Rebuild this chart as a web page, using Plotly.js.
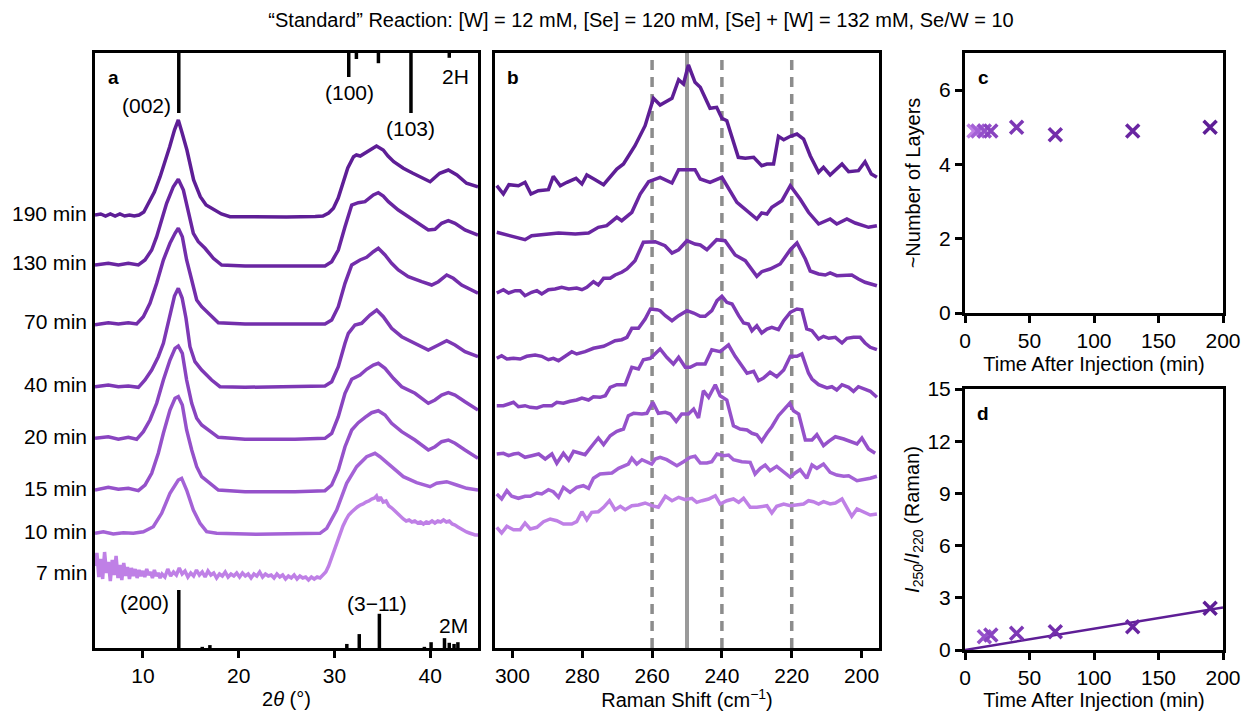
<!DOCTYPE html>
<html><head><meta charset="utf-8">
<script src="https://cdn.plot.ly/plotly-3.0.1.min.js"></script>
<style>html,body{margin:0;padding:0;background:#fff;}#chart{width:1244px;height:711px;}</style>
</head><body><div id="chart"></div>
<script>
// ---------- DATA ----------
const timeLabels = ['190 min','130 min','70 min','40 min','20 min','15 min','10 min','7 min'];

// XRD (2theta, offset intensity a.u.)
const xrd190 = [[5.0,433],[5.6,434],[6.1,432],[6.6,434],[7.1,432],[7.6,434],[8.1,432],[8.6,433],[9.1,432],[9.6,433],[10.1,436],[10.6,444.7],[11.2,456],[11.8,471.3],[12.3,485],[12.8,501.3],[13.3,518],[13.7,528],[14.1,515],[14.6,498],[15.3,468],[16.0,451.3],[16.6,443],[17.4,438],[18.2,434],[19.1,431.3],[22,431],[25,431],[28,431.5],[28.8,432],[29.4,435],[29.9,439.7],[30.4,450],[30.9,464.7],[31.4,480],[32.0,491.3],[32.3,493],[32.7,492],[33.5,496.7],[34.0,500],[34.4,502],[35.1,498],[35.6,492],[36.2,486.3],[37.2,479.7],[38.2,474.7],[39.3,469.7],[40.0,466.3],[41.0,474.7],[41.9,478],[42.8,473],[43.8,464.7],[45.0,461.3]];
const xrd130 = [[5.0,383],[6.39,384.7],[7.44,383],[8.48,384.7],[9.53,383],[10.22,388],[10.92,398],[11.44,411.3],[11.96,428],[12.48,444.7],[13.18,461.3],[13.7,468.7],[14.23,458],[14.75,434.7],[15.27,414.7],[15.79,406.3],[16.49,399.7],[17.36,389.7],[18.23,383],[20.67,382],[25.89,382],[29.02,382],[29.72,386.3],[30.41,398],[31.11,421.3],[31.81,443],[32.5,445.3],[33.2,446.3],[34.07,453],[34.59,455.3],[35.11,452],[35.64,446.3],[36.68,438],[37.72,431.3],[38.77,424.7],[39.81,418],[40.51,418.7],[41.2,424.7],[41.9,427.3],[42.6,424.7],[43.64,418],[45.0,413]];
const xrd70 = [[5.0,323.3],[6.39,325.3],[7.44,324],[8.48,325.3],[9.35,324],[10.05,331.3],[10.74,344.7],[11.44,364.7],[12.14,388],[12.83,404.7],[13.36,414.7],[13.7,419.7],[14.12,411.3],[14.57,388],[15.1,368],[15.62,348],[16.14,341.3],[16.84,334.7],[17.88,325.3],[20.67,324],[25.89,324],[29.02,324],[29.72,328],[30.41,341.3],[31.11,364.7],[31.81,383],[32.68,388],[33.37,390.7],[34.07,396.3],[34.59,399.7],[35.29,393],[35.98,384.7],[36.68,378],[37.72,371.3],[39.12,366.3],[40.16,363],[40.86,366.3],[41.73,373],[42.42,369.7],[43.29,363],[45.0,354.7]];
const xrd40 = [[5.0,261.3],[6.39,263],[7.44,261.3],[8.48,262],[9.53,260.7],[10.22,268],[10.92,278],[11.61,291.3],[12.14,304.7],[12.48,318],[12.9,338],[13.3,352],[13.7,359.7],[14.1,350],[14.5,330],[14.92,301.3],[15.44,286.3],[16.14,278],[17.18,268],[18.05,261.3],[20.67,260.7],[25.89,261],[29.02,262],[29.72,266.3],[30.41,281.3],[31.11,304.7],[31.46,314.7],[32.15,323],[32.85,324.7],[33.72,333],[34.42,338],[35.11,331.3],[35.98,319.7],[37.03,311.3],[38.42,304.7],[39.81,298],[40.86,303],[41.73,307.3],[42.6,303],[43.64,296.3],[45.0,291.3]];
const xrd20 = [[5.0,209.7],[6.39,211.3],[7.44,208.7],[8.48,210.7],[9.35,208.7],[10.05,216.3],[10.74,228],[11.44,244.7],[12.14,268],[12.83,288],[13.36,299.7],[13.7,302],[14.12,294.7],[14.57,268],[15.1,244.7],[15.62,229.7],[16.14,223],[17.01,216.3],[17.88,210.7],[20.67,208.7],[25.89,208.7],[29.02,209.7],[29.72,214.7],[30.41,231.3],[31.11,254.7],[31.81,268.7],[32.68,273],[33.37,278.7],[34.07,283],[34.59,284.7],[35.29,279.7],[36.16,269.7],[37.03,261.3],[38.42,254.7],[39.81,244.7],[40.51,248],[41.2,253],[41.9,255.3],[42.6,253],[43.64,246.3],[45.0,238]];
const xrd15 = [[5.0,158],[6.39,160.7],[7.44,158.7],[8.48,159.7],[9.53,157.3],[10.22,163],[10.92,174.7],[11.61,194.7],[12.14,214.7],[12.83,238],[13.36,249.7],[13.7,251.3],[14.12,243],[14.57,218],[15.1,198],[15.62,181.3],[16.14,171.3],[17.01,164.7],[17.88,158],[20.67,156.3],[25.89,156.3],[29.02,157.3],[29.72,163],[30.41,178],[31.11,201.3],[31.81,218],[32.5,225.3],[33.2,230.7],[33.89,235.3],[34.59,237.3],[35.29,233],[35.98,224.7],[37.03,216.3],[38.42,208],[39.81,198],[40.51,201.3],[41.2,206.3],[41.9,208],[42.6,204.7],[43.64,198],[45.0,189.7]];
const xrd10 = [[5.0,114.7],[5.87,116.3],[6.91,114],[7.96,115.3],[9.0,114.7],[10.05,116.3],[11.09,121.3],[11.96,134.7],[12.83,154.7],[13.7,168],[14.05,169.7],[14.57,158],[15.27,138],[15.97,124.7],[16.66,116.3],[17.71,114.7],[21.88,113.7],[28.5,114.7],[29.2,119.7],[30.24,138],[31.28,164.7],[32.33,181.3],[33.37,191.3],[34.24,194.7],[34.76,191.3],[35.81,183],[37.2,171.3],[38.59,165.3],[39.99,161.3],[40.68,164.7],[41.73,166.3],[42.77,163],[43.82,159.7],[45.0,158]];
const xrd7 = [[5.0,82],[5.2,95],[5.4,71],[5.6,89],[5.8,69],[6.0,96],[6.2,75],[6.4,86],[6.6,67],[6.8,88],[7.0,73],[7.2,92],[7.4,70],[7.6,83],[7.8,68],[8.0,85],[8.2,72],[8.4,81],[8.6,69],[8.8,80],[9.0,72],[9.2,79],[9.4,70],[9.6,78],[9.8,72],[10.0,77],[10.2,71],[10.4,79],[10.6,73],[10.8,76],[11.0,70],[11.2,78],[11.4,72],[11.6,75],[11.8,70],[12.0,74],[12.3,71],[12.6,79],[12.9,72],[13.2,76],[13.5,73],[13.8,80],[14.1,74],[14.4,77],[14.7,71],[15.0,75],[15.3,72],[15.6,78],[15.9,73],[16.2,76],[16.5,71],[16.8,77],[17.1,73],[17.4,75],[17.7,70],[18.0,74],[18.3,72],[18.6,76],[18.9,71],[19.2,74],[19.5,72],[19.8,75],[20.1,71],[20.4,75],[20.7,72],[21.0,74],[21.3,70],[21.6,74],[21.9,72],[22.2,76],[22.5,71],[22.8,74],[23.1,72],[23.4,73],[23.7,70],[24.0,74],[24.3,71],[24.6,73],[24.9,69],[25.2,72],[25.5,70],[25.8,73],[26.1,69],[26.4,72],[26.7,70],[27.0,71],[27.3,68],[27.6,71],[27.9,69],[28.2,71],[28.5,70],[28.8,73],[29.1,76],[29.4,82],[29.7,90],[30.0,98],[30.3,107],[30.6,115],[30.9,122],[31.2,128],[31.5,133],[31.8,136],[32.1,139],[32.4,141],[32.7,143],[33.0,144],[33.3,146],[33.6,147],[33.9,149],[34.2,150],[34.4,152],[34.6,147],[34.8,151],[35.1,146],[35.4,147],[35.7,142],[36.0,140],[36.3,137],[36.6,134],[36.9,131],[37.2,129],[37.5,127],[37.8,128],[38.1,126],[38.4,127],[38.7,125],[39.0,126],[39.3,124],[39.6,126],[39.9,125],[40.2,127],[40.5,125],[40.8,127],[41.1,126],[41.4,128],[41.7,126],[42.0,127],[42.3,124],[42.6,123],[42.9,121],[43.2,119],[43.5,118],[43.8,116],[44.1,115],[44.4,114],[44.7,113],[45.0,113]];

// Reference patterns (2theta, relative intensity)
const ref2H = [[13.75,100],[31.5,40],[32.3,10],[34.6,17],[38.0,100],[42.0,8]];
const ref2M = [[13.75,100],[16.2,2],[17.0,5],[31.3,7],[32.6,24],[34.7,59],[39.4,2],[40.1,10],[41.5,17],[42.0,9],[42.5,7],[42.9,10]];

// Raman (shift cm-1, offset intensity a.u.)
const ram190 = [[304.5,462.3],[302.6,454],[301.0,463.3],[298.3,462.3],[296.4,465.7],[294.7,454],[292.6,457.3],[289.7,458.3],[288.3,471.7],[286.3,462.3],[284.4,465.7],[281.8,469.7],[280.1,464],[278.7,473],[276.3,468.3],[273.9,463.3],[270.1,479],[268.2,484],[264.9,502.3],[262.0,522.3],[259.6,549.7],[257.7,543],[254.3,549.7],[252.4,568.3],[251.0,564],[249.6,583],[247.7,565.7],[246.2,560.7],[243.4,539.7],[241.5,540.7],[240.0,529.7],[238.6,527.3],[235.3,490.7],[233.3,489.7],[230.9,490.7],[228.6,482.3],[227.1,484],[225.2,484],[223.8,511.7],[222.3,508.3],[220.4,511.7],[218.5,514],[216.6,509],[214.7,492.3],[212.3,475.7],[210.9,480.7],[209.0,473],[205.6,484],[203.7,476.3],[200.9,477.3],[199.0,486.3],[197.2,474],[195.6,470.7]];
const ram130 = [[304.5,415.7],[301.1,412.3],[296.4,408.3],[294.5,412.3],[289.7,414],[286.8,415],[282.0,414],[278.2,415],[275.4,420.7],[273.0,422.3],[270.1,430.7],[268.7,427.3],[265.8,435.7],[263.4,454],[261.0,466.3],[257.7,470.7],[254.3,465],[252.4,478.3],[247.7,478.3],[246.2,469],[243.4,465.7],[240.0,470.7],[235.7,445.7],[232.9,437.3],[230.0,429],[228.6,435],[227.1,434],[225.7,440.7],[222.8,447.3],[220.4,462.3],[217.6,449],[215.2,435.7],[212.3,424],[209.0,429],[207.1,424],[204.2,429],[201.8,425],[198.0,420.7],[195.6,422.3]];
const ram70 = [[304.5,355],[302.6,358.3],[301.1,355],[299.2,357.3],[297.8,357.3],[296.4,352.3],[294.5,355.7],[293.0,357.3],[291.6,354],[289.7,358.3],[287.8,359],[285.9,360.7],[283.9,359],[281.6,360],[280.1,358.3],[278.7,360.7],[276.8,366.3],[275.4,363],[273.9,369.7],[272.0,369.7],[270.6,373],[268.7,375.7],[267.2,379],[264.9,387.3],[262.5,405.7],[259.1,406.3],[256.3,402.3],[254.3,395],[252.4,398.3],[250.0,407.3],[247.7,404],[246.2,403],[244.3,398.3],[241.5,408.3],[239.1,407.3],[236.2,393],[233.3,387.3],[231.4,379],[230.0,371.7],[228.6,376.3],[226.2,379],[223.3,384],[220.4,398.3],[218.5,405],[216.1,389],[214.7,377],[212.3,374],[210.4,373],[209.0,375],[207.1,372.3],[205.1,372.3],[202.8,373],[200.9,369],[199.0,365.7],[195.6,362.3]];
const ram40 = [[304.5,289.7],[303.1,292.3],[301.6,289],[299.7,289.7],[297.8,289],[295.9,291.7],[293.5,293],[291.6,291.7],[289.7,288.3],[288.3,289.7],[286.8,287.3],[284.9,291.7],[283.0,296.3],[281.6,294],[279.2,296.3],[276.8,299.7],[275.4,300.7],[273.9,301.7],[272.5,304],[270.6,307.3],[268.7,308.3],[267.2,310.7],[265.8,319.7],[263.9,319.7],[262.0,329],[260.5,339],[258.6,338.3],[257.7,337.3],[256.2,332.3],[254.3,327.3],[252.4,332.3],[250.0,337.3],[248.1,335],[246.2,331.7],[244.8,331.7],[242.9,337.3],[241.4,347.3],[240.0,351.7],[238.6,345.7],[237.1,344],[235.2,332.3],[233.8,325],[232.4,324],[231.4,317.3],[230.0,322.3],[228.6,315],[227.1,319],[225.7,320.7],[223.8,318.3],[222.3,327.3],[220.4,335.7],[218.5,339],[217.1,338.3],[215.7,319],[214.2,317.3],[212.3,309],[210.9,311.7],[209.4,309.7],[207.5,310.7],[205.6,305],[204.2,309.7],[202.3,310.7],[200.4,310.7],[199.0,305],[197.5,300.7],[195.6,298.3]];
const ram20 = [[304.5,242.3],[302.6,242.3],[301.1,244],[299.7,245.7],[298.3,241.3],[296.4,242.3],[294.9,240.7],[293.0,240],[291.1,242.3],[288.7,242.3],[287.3,245.7],[285.4,244.7],[283.5,246.7],[281.6,248],[280.1,250],[278.2,248],[276.8,251.3],[274.9,250.7],[273.4,252.3],[272.0,260.7],[270.1,263.3],[267.7,263.3],[265.8,280.7],[263.9,279],[262.5,288.3],[260.5,289.7],[257.7,299],[255.8,290.7],[253.9,284],[252.4,290.7],[250.5,280.7],[249.1,280.7],[247.2,284],[244.8,284],[242.9,298.3],[240.5,296.3],[238.1,303],[236.2,291.7],[234.3,282.3],[232.8,274.7],[230.9,276.7],[229.5,267.3],[228.1,270],[226.2,275.7],[224.3,271.3],[222.3,278],[220.4,291.7],[218.5,291.7],[217.1,294],[215.2,275],[214.2,269],[212.3,263.3],[209.9,260],[208.5,261.3],[207.1,258],[205.6,263.3],[203.7,260.7],[202.3,256.7],[200.9,261.3],[199.0,259],[197.5,256.7],[195.6,250.7]];
const ram15 = [[304.5,194],[302.6,194.7],[301.1,192.3],[299.7,194],[298.3,194.7],[296.4,190.7],[294.5,192.3],[292.5,194],[290.6,189],[288.7,194],[287.3,184.7],[285.4,194.7],[283.9,188],[282.5,196.7],[280.6,194.7],[279.2,193.3],[276.8,204],[275.4,210],[273.9,203.3],[272.0,212.3],[270.1,216.7],[268.2,219],[266.8,232.3],[265.3,234.7],[262.9,234],[261.5,234.7],[259.8,245.7],[258.2,234.7],[256.2,235.7],[254.8,234],[253.1,226.7],[251.5,234],[249.6,234],[248.1,239],[246.7,230],[245.3,257.3],[243.8,250.7],[241.9,263.3],[240.5,252.3],[238.6,248],[236.7,222.3],[234.8,219],[232.8,218],[231.4,214.7],[230.0,213.3],[228.6,206.7],[227.1,214.7],[225.7,221.3],[223.8,232.3],[222.3,238],[220.6,244.7],[219.5,237.3],[218.0,234],[216.1,208],[214.2,208],[212.8,213.3],[210.9,202.3],[209.4,206.7],[207.5,211.3],[205.1,209],[202.8,205.7],[201.3,204],[199.9,210],[198.0,199],[196.1,194.7]];
const ram10 = [[304.5,154],[303.1,149],[301.6,157.3],[300.2,151.7],[298.3,149.7],[296.4,151.7],[294.9,151.7],[293.0,155],[291.6,154],[289.7,158.3],[288.3,156.3],[286.8,150.7],[285.4,160.7],[283.5,155.7],[281.6,160.7],[279.7,162.3],[278.2,159.7],[276.8,169.7],[274.9,174],[273.0,175],[271.5,175],[269.6,179.7],[268.2,182.3],[266.8,184],[265.8,189.7],[264.4,184],[262.9,188.3],[261.5,185.7],[260.1,184],[259.1,189],[257.7,190.7],[255.8,188.3],[252.9,182.3],[251.0,186.3],[249.1,190.7],[247.7,191.7],[246.2,185],[244.3,185],[242.9,186.3],[241.4,194],[239.5,192.3],[238.1,193],[236.7,188.3],[234.3,186.3],[231.9,185.7],[230.5,174],[229.0,179.7],[227.6,183],[226.2,177.3],[224.3,181.7],[222.3,176.3],[220.4,170.7],[219.0,175],[217.6,178.3],[215.7,169.7],[214.2,183],[212.8,179.7],[210.9,184],[209.0,175.7],[207.1,173],[205.1,171.7],[203.7,172.3],[201.3,167.3],[199.4,168.3],[197.5,169.7],[195.6,171.7]];
const ram7 = [[304.5,120.7],[303.1,115],[301.6,121.7],[299.7,118.3],[297.8,118.3],[296.4,125],[294.9,119],[293.0,120.7],[291.1,126.3],[289.2,129],[287.3,127.3],[285.4,124],[283.0,124],[281.6,126.3],[280.1,136.3],[278.7,128.3],[277.3,135.7],[275.4,136.3],[273.9,140.7],[272.2,147.3],[270.6,138.3],[269.1,141.7],[267.7,138.3],[265.8,142.3],[263.9,143],[262.0,145],[260.1,142.3],[258.2,140.7],[256.2,151.7],[254.3,147.3],[252.4,150.7],[250.5,148.3],[248.6,149.7],[247.2,145.7],[245.7,147.3],[243.8,149],[241.9,152.3],[240.5,144],[238.6,147.3],[236.7,149],[235.2,145.7],[233.8,149.7],[231.9,140.7],[230.0,140.7],[227.1,142.3],[225.7,135],[224.3,141.7],[222.3,144],[220.4,142.3],[218.5,143],[216.6,144],[215.2,147.3],[213.8,146.3],[212.3,144],[210.9,146.3],[209.0,144],[207.5,145],[205.6,149],[204.2,140.7],[202.8,131.7],[201.3,139],[199.4,135.7],[197.5,133],[195.6,134]];

// Raman reference lines (cm-1)
const ramanDashed = [260, 240, 220];
const ramanSolid = [250];

// Panel c: approx. number of layers
const layerTime = [7, 10, 15, 20, 40, 70, 130, 190];
const layerCount = [4.9, 4.9, 4.9, 4.9, 5.0, 4.8, 4.9, 5.0];

// Panel d: Raman ratio
const ratioTime = [15, 20, 40, 70, 130, 190];
const ratioValue = [0.76, 0.86, 0.96, 1.05, 1.34, 2.40];
const fitTime = [0, 200];
const fitValue = [0, 2.45];

// ---------- STYLE ----------
const colors = ['#5E1E96','#6925A1','#732EAB','#7D38B5','#8944C0','#9551CA','#A462D6','#BF80E6'];
const timeColor = {190:colors[0],130:colors[1],70:colors[2],40:colors[3],20:colors[4],15:colors[5],10:colors[6],7:colors[7]};
const FONT = 'Arial, "Liberation Sans", sans-serif';
const W = 1244, H = 711;
const fx = px => px / W;
const fy = py => 1 - py / H;
const Ytop = 595;
const LABEL_LIFT = 3;

const xrdSets = [xrd190, xrd130, xrd70, xrd40, xrd20, xrd15, xrd10, xrd7];
const ramSets = [ram190, ram130, ram70, ram40, ram20, ram15, ram10, ram7];

const traces = [];
xrdSets.forEach((s, i) => {
  traces.push({type:'scatter', mode:'lines', x:s.map(p=>p[0]), y:s.map(p=>p[1]),
    xaxis:'x', yaxis:'y', line:{color:colors[i], width:3.5}, hoverinfo:'skip'});
});
function sticks(list, fromTop, scale) {
  const x = [], y = [];
  list.forEach(p => {
    x.push(p[0], p[0], null);
    if (fromTop) y.push(Ytop, Ytop - p[1]*scale, null);
    else y.push(0, p[1]*scale, null);
  });
  return {type:'scatter', mode:'lines', x, y, xaxis:'x', yaxis:'y', line:{color:'#000', width:3.5}, hoverinfo:'skip'};
}
traces.push(sticks(ref2H, true, 0.6));
traces.push(sticks(ref2M, false, 0.58));

ramSets.forEach((s, i) => {
  traces.push({type:'scatter', mode:'lines', x:s.map(p=>p[0]), y:s.map(p=>p[1]),
    xaxis:'x2', yaxis:'y2', line:{color:colors[i], width:3.5}, hoverinfo:'skip'});
});

traces.push({type:'scatter', mode:'markers', x:layerTime, y:layerCount, xaxis:'x3', yaxis:'y3',
  marker:{symbol:'x-thin', size:13, line:{width:3.5, color:layerTime.map(t=>timeColor[t])}}, hoverinfo:'skip'});

traces.push({type:'scatter', mode:'lines', x:fitTime, y:fitValue, xaxis:'x4', yaxis:'y4',
  line:{color:colors[0], width:2.5}, hoverinfo:'skip'});
traces.push({type:'scatter', mode:'markers', x:ratioTime, y:ratioValue, xaxis:'x4', yaxis:'y4',
  marker:{symbol:'x-thin', size:13, line:{width:3.5, color:ratioTime.map(t=>timeColor[t])}}, hoverinfo:'skip'});

const shapes = [];
ramanDashed.forEach(v => shapes.push({type:'line', xref:'x2', yref:'y2 domain', x0:v, x1:v, y0:0, y1:1,
  line:{color:'#8c8c8c', width:3.5, dash:'10px,7px'}, layer:'below'}));
ramanSolid.forEach(v => shapes.push({type:'line', xref:'x2', yref:'y2 domain', x0:v, x1:v, y0:0, y1:1,
  line:{color:'#9a9a9a', width:4}, layer:'below'}));

const tickF = {family:FONT, size:21, color:'#000'};
const titleF = {family:FONT, size:20, color:'#000'};
function frame(extra) {
  return Object.assign({showline:true, linecolor:'#000', linewidth:3, mirror:true, showgrid:false,
    zeroline:false, ticks:'outside', ticklen:7, tickwidth:3, tickcolor:'#000', tickfont:tickF, automargin:false}, extra);
}
const yDomAB = [fy(648), fy(53)];

const annotations = [];
xrdSets.forEach((s, i) => {
  const flat = s.filter(p => p[0] >= 18 && p[0] <= 28);
  const base = flat.reduce((a, p) => a + p[1], 0) / flat.length;
  annotations.push({xref:'paper', yref:'y', x:fx(89), y:base + LABEL_LIFT, xanchor:'right', yanchor:'middle',
    text:timeLabels[i], showarrow:false, font:tickF});
});
const refLabels = [
  ['(002)', 10.4, 543], ['(100)', 31.6, 556], ['(103)', 37.9, 520], ['2H', 42.6, 572],
  ['(200)', 10.2, 46], ['(3\u221211)', 34.45, 45], ['2M', 42.4, 23]
];
refLabels.forEach(r => annotations.push({xref:'x', yref:'y', x:r[1], y:r[2], text:r[0], showarrow:false,
  xanchor:'center', yanchor:'middle', font:tickF}));
[['a',113,77],['b',513,77],['c',983,77],['d',983,413]].forEach(l => annotations.push({xref:'paper', yref:'paper',
  x:fx(l[1]), y:fy(l[2]), text:'<b>'+l[0]+'</b>', showarrow:false, xanchor:'center', yanchor:'middle',
  font:{family:FONT, size:19, color:'#000'}}));

const layout = {
  width:W, height:H, margin:{l:0, r:0, t:0, b:0}, paper_bgcolor:'#fff', plot_bgcolor:'#fff',
  showlegend:false, hovermode:false, font:{family:FONT, color:'#000'},
  title:{text:'\u201cStandard\u201d Reaction: [W] = 12 mM, [Se] = 120 mM, [Se] + [W] = 132 mM, Se/W = 10',
    x:fx(641), y:fy(20), xanchor:'center', yanchor:'middle', xref:'paper', yref:'paper', font:titleF},
  xaxis: frame({domain:[fx(95), fx(478)], range:[5,45], anchor:'y', tickvals:[10,20,30,40],
    title:{text:'2<i>\u03b8</i> (\u00b0)', font:titleF, standoff:6}}),
  yaxis: frame({domain:yDomAB, range:[0,595], anchor:'x', ticks:'', showticklabels:false}),
  xaxis2: frame({domain:[fx(495), fx(879)], range:[305,195], anchor:'y2', tickvals:[300,280,260,240,220,200],
    title:{text:'Raman Shift (cm<sup>\u22121</sup>)', font:titleF, standoff:6}}),
  yaxis2: frame({domain:yDomAB, range:[0,595], anchor:'x2', ticks:'', showticklabels:false}),
  xaxis3: frame({domain:[fx(965), fx(1223)], range:[0,200], anchor:'y3', tickvals:[0,50,100,150,200],
    title:{text:'Time After Injection (min)', font:titleF, standoff:6}}),
  yaxis3: frame({domain:[fy(313), fy(53)], range:[0,7], anchor:'x3', tickvals:[0,2,4,6],
    title:{text:'~Number of Layers', font:titleF, standoff:14}}),
  xaxis4: frame({domain:[fx(965), fx(1223)], range:[0,200], anchor:'y4', tickvals:[0,50,100,150,200],
    title:{text:'Time After Injection (min)', font:titleF, standoff:6}}),
  yaxis4: frame({domain:[fy(650), fy(389)], range:[0,15], anchor:'x4', tickvals:[0,3,6,9,12,15],
    title:{text:'<i>I</i><sub>250</sub>/<i>I</i><sub>220</sub> (Raman)', font:titleF, standoff:3}}),
  shapes, annotations
};
Plotly.newPlot('chart', traces, layout, {staticPlot:true, displayModeBar:false});
</script></body></html>
